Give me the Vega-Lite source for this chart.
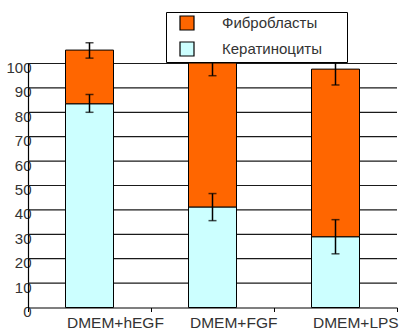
{
  "$schema": "https://vega.github.io/schema/vega-lite/v6.json",
  "width": 369,
  "height": 244,
  "autosize": {"type": "none"},
  "padding": {"left": 28, "top": 63.5, "right": 12, "bottom": 23.5},
  "background": "white",
  "config": {
    "font": "Liberation Sans",
    "view": {"stroke": null},
    "axis": {"domainColor": "#000", "domainWidth": 1.2, "tickColor": "#000", "labelColor": "#333", "labelFont": "Liberation Sans", "title": null},
    "axisX": {"labelAngle": 0, "labelAlign": "left", "labelOffset": -23, "labelFontSize": 15.5, "labelPadding": 4, "tickSize": 4, "tickBand": "extent", "grid": false},
    "axisY": {"labelOverlap": false, "tickSize": 0, "labelPadding": -3, "labelOffset": 4, "labelFontSize": 15, "grid": false}
  },
  "datasets": {
    "errors": [
      {"group": "DMEM+hEGF", "low": 80, "high": 87.3},
      {"group": "DMEM+hEGF", "low": 102.2, "high": 108.5},
      {"group": "DMEM+FGF", "low": 35.6, "high": 46.7},
      {"group": "DMEM+FGF", "low": 95, "high": 105},
      {"group": "DMEM+LPS", "low": 22, "high": 36},
      {"group": "DMEM+LPS", "low": 91.2, "high": 104}
    ],
    "gridlines": [
      {"level": 10}, {"level": 20}, {"level": 30}, {"level": 40}, {"level": 50},
      {"level": 60}, {"level": 70}, {"level": 80}, {"level": 90}, {"level": 100}
    ]
  },
  "layer": [
    {
      "data": {"name": "gridlines"},
      "mark": {"type": "tick", "orient": "horizontal", "color": "#1a1a1a", "opacity": 1, "size": 369, "thickness": 1.2},
      "encoding": {
        "x": {"value": {"expr": "width / 2"}},
        "y": {"field": "level", "type": "quantitative", "axis": {"values": [0, 10, 20, 30, 40, 50, 60, 70, 80, 90, 100]}}
      }
    },
    {
      "data": {
        "values": [
          {"group": "DMEM+hEGF", "type": "Кератиноциты", "value": 83.5},
          {"group": "DMEM+hEGF", "type": "Фибробласты", "value": 22},
          {"group": "DMEM+FGF", "type": "Кератиноциты", "value": 41.2},
          {"group": "DMEM+FGF", "type": "Фибробласты", "value": 59},
          {"group": "DMEM+LPS", "type": "Кератиноциты", "value": 29},
          {"group": "DMEM+LPS", "type": "Фибробласты", "value": 68.7}
        ]
      },
      "mark": {"type": "bar", "size": 48, "stroke": "#000", "strokeWidth": 1},
      "encoding": {
        "x": {
          "field": "group", "type": "nominal", "sort": null,
          "scale": {"paddingInner": 0, "paddingOuter": 0}
        },
        "y": {
          "field": "value", "type": "quantitative", "stack": "zero",
          "scale": {"domain": [0, 100], "nice": false},
          "axis": {"values": [0, 10, 20, 30, 40, 50, 60, 70, 80, 90, 100]}
        },
        "color": {
          "field": "type", "type": "nominal",
          "scale": {"domain": ["Фибробласты", "Кератиноциты"], "range": ["#FF6600", "#CCFFFF"]},
          "legend": {
            "orient": "none", "legendX": 138, "legendY": -51.5, "title": null,
            "symbolType": "square", "symbolSize": 196, "symbolStrokeColor": "#000", "symbolStrokeWidth": 1.2,
            "symbolOffset": 10, "labelOffset": 27, "labelFontSize": 15, "labelColor": "#333",
            "labelExpr": "datum.label + '\u2800\u2800'",
            "rowPadding": 6, "padding": 3,
            "strokeColor": "#000", "fillColor": "#fff"
          }
        },
        "order": {"field": "type", "sort": "ascending"}
      }
    },
    {
      "data": {"name": "errors"},
      "mark": {"type": "rule", "color": "#000", "strokeWidth": 1.5},
      "encoding": {
        "x": {"field": "group", "type": "nominal", "sort": null},
        "y": {"field": "low", "type": "quantitative", "axis": {"values": [0, 10, 20, 30, 40, 50, 60, 70, 80, 90, 100]}},
        "y2": {"field": "high"}
      }
    },
    {
      "data": {"name": "errors"},
      "mark": {"type": "tick", "color": "#000", "size": 8, "thickness": 1.5},
      "encoding": {
        "x": {"field": "group", "type": "nominal", "sort": null},
        "y": {"field": "low", "type": "quantitative", "axis": {"values": [0, 10, 20, 30, 40, 50, 60, 70, 80, 90, 100]}}
      }
    },
    {
      "data": {"name": "errors"},
      "mark": {"type": "tick", "color": "#000", "size": 8, "thickness": 1.5},
      "encoding": {
        "x": {"field": "group", "type": "nominal", "sort": null},
        "y": {"field": "high", "type": "quantitative", "axis": {"values": [0, 10, 20, 30, 40, 50, 60, 70, 80, 90, 100]}}
      }
    }
  ]
}
